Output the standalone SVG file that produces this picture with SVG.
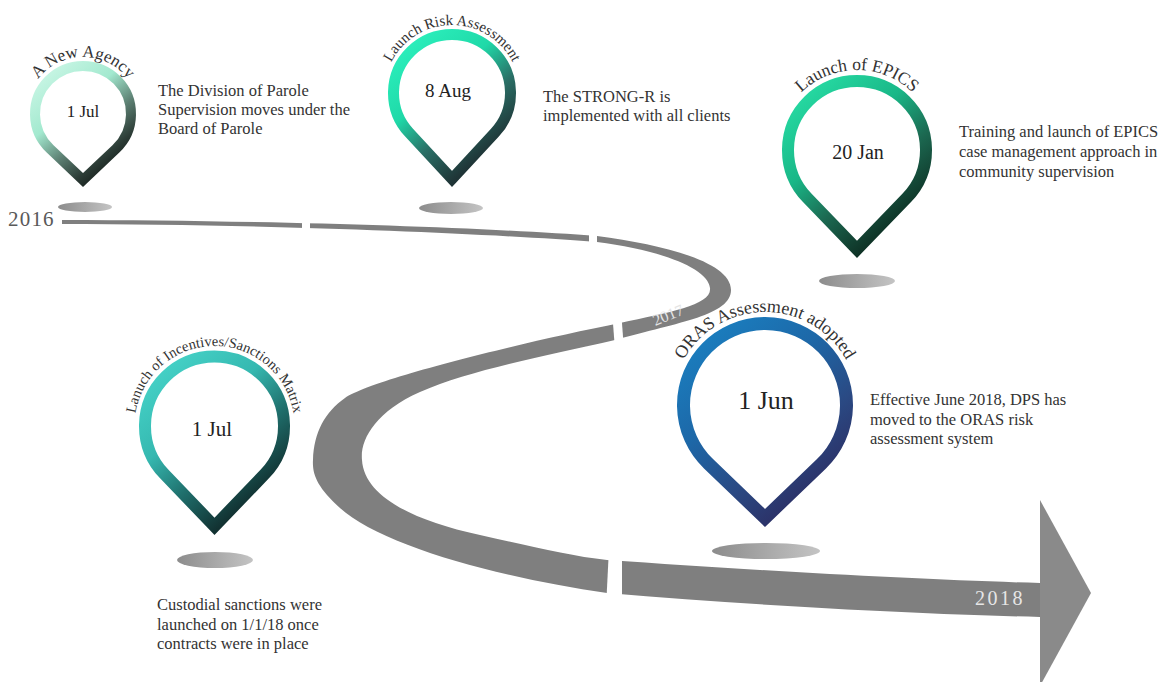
<svg xmlns="http://www.w3.org/2000/svg" width="1167" height="682" viewBox="0 0 1167 682">
<defs>
<style>
.desc{font-family:"Liberation Serif","Times New Roman",serif;font-size:16.5px;fill:#333}
.date{font-family:"Liberation Serif","Times New Roman",serif;fill:#222;text-anchor:middle}
.arc{font-family:"Liberation Serif","Times New Roman",serif;fill:#333}
.year{font-family:"Liberation Serif","Times New Roman",serif}
.ring{fill:#fff;stroke-linejoin:miter;stroke-miterlimit:6}
.gap{fill:#fff}
</style>
<linearGradient id="g1" x1="0.15" y1="0" x2="0.85" y2="1">
<stop offset="0" stop-color="#c9f6e5"/><stop offset="0.35" stop-color="#a3e9cf"/><stop offset="0.6" stop-color="#5c7f72"/><stop offset="0.8" stop-color="#2c3c36"/><stop offset="1" stop-color="#0a0d0c"/>
</linearGradient>
<linearGradient id="g2" x1="0.15" y1="0" x2="0.85" y2="1">
<stop offset="0" stop-color="#2cf0bd"/><stop offset="0.35" stop-color="#1fd9a8"/><stop offset="0.6" stop-color="#2a6f66"/><stop offset="0.85" stop-color="#1f3537"/><stop offset="1" stop-color="#182628"/>
</linearGradient>
<linearGradient id="g3" x1="0.15" y1="0" x2="0.85" y2="1">
<stop offset="0" stop-color="#27dca4"/><stop offset="0.35" stop-color="#19b787"/><stop offset="0.6" stop-color="#1c6a52"/><stop offset="0.85" stop-color="#0f3528"/><stop offset="1" stop-color="#06140f"/>
</linearGradient>
<linearGradient id="g4" x1="0.15" y1="0" x2="0.85" y2="1">
<stop offset="0" stop-color="#46d3c8"/><stop offset="0.35" stop-color="#35b8b0"/><stop offset="0.6" stop-color="#1f6f6c"/><stop offset="0.85" stop-color="#123333"/><stop offset="1" stop-color="#0a1818"/>
</linearGradient>
<linearGradient id="g5" x1="0.15" y1="0" x2="0.85" y2="1">
<stop offset="0" stop-color="#1a7fc0"/><stop offset="0.35" stop-color="#1d68a8"/><stop offset="0.65" stop-color="#2a4a84"/><stop offset="1" stop-color="#2d2458"/>
</linearGradient>
<linearGradient id="sh" x1="0" y1="0" x2="1" y2="0">
<stop offset="0" stop-color="#8c8c8c"/><stop offset="1" stop-color="#c4c4c4"/>
</linearGradient>
<path id="a1" d="M26,114 A57,57 0 0 1 140,114"/>
<path id="a2" d="M384,93 A68,68 0 0 1 520,93"/>
<path id="a3" d="M777,150 A80,80 0 0 1 937,150"/>
<path id="a4" d="M134.5,426 A80,80 0 0 1 294.5,426"/>
<path id="a5" d="M672,405 A93,93 0 0 1 858,405"/>
</defs>
<rect width="1167" height="682" fill="#fff"/>

<g id="timeline">
<path fill="#7f7f7f" d="M62,220 C250,220 480,227 597,236 C665,245 731,262 731,290 C731,315 680,322 615,340 C540,357 470,370 420,392 C375,412 360,440 362,460 C364,495 410,520 480,535 C530,546 570,556 607,560 C750,570 920,580 1040,583 L1040,617 C920,614 760,606 607,593 C500,578 380,545 340,508 C318,488 312,475 313,460 C314,432 325,412 345,398 C372,379 520,343 620,323 C670,312 712,305 710,288 C708,268 660,250 597,242 C480,233 250,224 62,224 Z"/>
<polygon fill="#8a8a8a" points="1040,500 1091,593 1040,686"/>
<rect class="gap" x="302" y="214" width="8" height="20"/>
<rect class="gap" x="589" y="226" width="8" height="24"/>
<polygon class="gap" points="612,310 621,310 624,350 615,350"/>
<polygon class="gap" points="609,548 622,548 622,608 606,608"/>
<text class="year" x="8" y="226" font-size="21" letter-spacing="1.2" fill="#595959">2016</text>
<text class="year" transform="translate(670,320) rotate(-22)" text-anchor="middle" font-size="16" fill="#e4e4e4">2017</text>
<text class="year" x="975" y="605" font-size="20" letter-spacing="2.5" fill="#e6e6e6">2018</text>
</g>

<g id="pin-new-agency">
<ellipse cx="85" cy="207" rx="27" ry="5" fill="url(#sh)"/>
<path class="ring" stroke="url(#g1)" stroke-width="10" d="M83,180 L115.9,148.9 A48,48 0 1 0 50.1,148.9 Z"/>
<text class="arc" font-size="17"><textPath href="#a1" startOffset="50%" text-anchor="middle">A New Agency</textPath></text>
<text class="date" x="83" y="117" font-size="17">1 Jul</text>
<text class="desc"><tspan x="158" y="96">The Division of Parole</tspan><tspan x="158" y="115">Supervision moves under the</tspan><tspan x="158" y="134">Board of Parole</tspan></text>
</g>

<g id="pin-risk-assessment">
<ellipse cx="451" cy="208" rx="32" ry="6" fill="url(#sh)"/>
<path class="ring" stroke="url(#g2)" stroke-width="11" d="M452,178.9 L494.8,132.8 A58.5,58.5 0 1 0 409.2,132.8 Z"/>
<text class="arc" font-size="15"><textPath href="#a2" startOffset="50%" text-anchor="middle">Launch Risk Assessment</textPath></text>
<text class="date" x="448" y="97" font-size="19">8 Aug</text>
<text class="desc"><tspan x="543" y="102">The STRONG-R is</tspan><tspan x="543" y="121">implemented with all clients</tspan></text>
</g>

<g id="pin-epics">
<ellipse cx="857" cy="281" rx="38" ry="7" fill="url(#sh)"/>
<path class="ring" stroke="url(#g3)" stroke-width="12" d="M857,249.4 L906.7,197.9 A69,69 0 1 0 807.3,197.9 Z"/>
<text class="arc" font-size="17.5"><textPath href="#a3" startOffset="50%" text-anchor="middle">Launch of EPICS</textPath></text>
<text class="date" x="858" y="159" font-size="20">20 Jan</text>
<text class="desc"><tspan x="959" y="137">Training and launch of EPICS</tspan><tspan x="959" y="157">case management approach in</tspan><tspan x="959" y="177">community supervision</tspan></text>
</g>

<g id="pin-incentives">
<ellipse cx="215" cy="560" rx="38" ry="8" fill="url(#sh)"/>
<path class="ring" stroke="url(#g4)" stroke-width="12" d="M214.5,526.3 L264.6,474.2 A69.5,69.5 0 1 0 164.4,474.2 Z"/>
<text class="arc" font-size="14.5"><textPath href="#a4" startOffset="50%" text-anchor="middle">Lanuch of Incentives/Sanctions Matrix</textPath></text>
<text class="date" x="212" y="436" font-size="21">1 Jul</text>
<text class="desc"><tspan x="157" y="610">Custodial sanctions were</tspan><tspan x="157" y="630">launched on 1/1/18 once</tspan><tspan x="157" y="649">contracts were in place</tspan></text>
</g>

<g id="pin-oras">
<ellipse cx="766" cy="551" rx="54" ry="8" fill="url(#sh)"/>
<path class="ring" stroke="url(#g5)" stroke-width="13" d="M765,518 L821.5,463.8 A81.5,81.5 0 1 0 708.5,463.8 Z"/>
<text class="arc" font-size="18"><textPath href="#a5" startOffset="50%" text-anchor="middle">ORAS Assessment adopted</textPath></text>
<text class="date" x="766" y="409" font-size="26">1 Jun</text>
<text class="desc"><tspan x="870" y="405">Effective June 2018, DPS has</tspan><tspan x="870" y="425">moved to the ORAS risk</tspan><tspan x="870" y="444">assessment system</tspan></text>
</g>
</svg>
